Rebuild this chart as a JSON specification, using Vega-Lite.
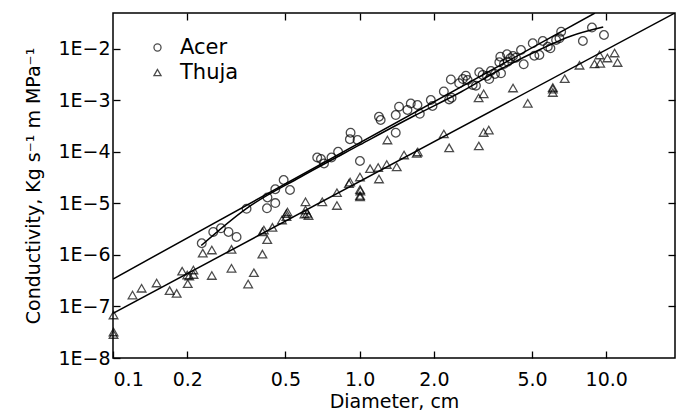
{
  "$schema": "https://vega.github.io/schema/vega-lite/v6.json",
  "width": 562,
  "height": 345,
  "autosize": {"type": "none"},
  "padding": {"left": 113, "top": 13, "right": 1, "bottom": 57},
  "background": "white",
  "config": {
    "font": "DejaVu Sans",
    "view": {"stroke": "black", "strokeWidth": 1.5},
    "axis": {
      "grid": false,
      "domain": false,
      "tickColor": "black",
      "tickWidth": 1.3,
      "labelColor": "black",
      "titleColor": "black",
      "labelFontSize": 19,
      "titleFontSize": 19,
      "titleFontWeight": "normal"
    }
  },
  "datasets": {
    "points": [
      {"species": "Acer", "diameter": 0.229, "conductivity": 1.69e-6},
      {"species": "Acer", "diameter": 0.255, "conductivity": 2.80e-6},
      {"species": "Acer", "diameter": 0.274, "conductivity": 3.30e-6},
      {"species": "Acer", "diameter": 0.294, "conductivity": 2.80e-6},
      {"species": "Acer", "diameter": 0.317, "conductivity": 2.24e-6},
      {"species": "Acer", "diameter": 0.348, "conductivity": 7.89e-6},
      {"species": "Acer", "diameter": 0.421, "conductivity": 8.07e-6},
      {"species": "Acer", "diameter": 0.423, "conductivity": 1.31e-5},
      {"species": "Acer", "diameter": 0.455, "conductivity": 1.02e-5},
      {"species": "Acer", "diameter": 0.455, "conductivity": 1.89e-5},
      {"species": "Acer", "diameter": 0.492, "conductivity": 2.86e-5},
      {"species": "Acer", "diameter": 0.522, "conductivity": 1.83e-5},
      {"species": "Acer", "diameter": 0.673, "conductivity": 7.82e-5},
      {"species": "Acer", "diameter": 0.697, "conductivity": 7.31e-5},
      {"species": "Acer", "diameter": 0.717, "conductivity": 5.98e-5},
      {"species": "Acer", "diameter": 0.769, "conductivity": 7.82e-5},
      {"species": "Acer", "diameter": 0.818, "conductivity": 1.01e-4},
      {"species": "Acer", "diameter": 0.919, "conductivity": 2.37e-4},
      {"species": "Acer", "diameter": 0.913, "conductivity": 1.77e-4},
      {"species": "Acer", "diameter": 0.981, "conductivity": 1.71e-4},
      {"species": "Acer", "diameter": 1.003, "conductivity": 6.68e-5},
      {"species": "Acer", "diameter": 1.198, "conductivity": 4.84e-4},
      {"species": "Acer", "diameter": 1.217, "conductivity": 4.18e-4},
      {"species": "Acer", "diameter": 1.401, "conductivity": 5.22e-4},
      {"species": "Acer", "diameter": 1.401, "conductivity": 2.37e-4},
      {"species": "Acer", "diameter": 1.445, "conductivity": 7.59e-4},
      {"species": "Acer", "diameter": 1.563, "conductivity": 6.55e-4},
      {"species": "Acer", "diameter": 1.612, "conductivity": 8.75e-4},
      {"species": "Acer", "diameter": 1.716, "conductivity": 8.18e-4},
      {"species": "Acer", "diameter": 1.754, "conductivity": 5.52e-4},
      {"species": "Acer", "diameter": 1.944, "conductivity": 1.02e-3},
      {"species": "Acer", "diameter": 1.975, "conductivity": 7.82e-4},
      {"species": "Acer", "diameter": 2.195, "conductivity": 1.50e-3},
      {"species": "Acer", "diameter": 2.307, "conductivity": 1.05e-3},
      {"species": "Acer", "diameter": 2.344, "conductivity": 2.56e-3},
      {"species": "Acer", "diameter": 2.360, "conductivity": 1.13e-3},
      {"species": "Acer", "diameter": 2.533, "conductivity": 2.16e-3},
      {"species": "Acer", "diameter": 2.622, "conductivity": 2.61e-3},
      {"species": "Acer", "diameter": 2.697, "conductivity": 3.03e-3},
      {"species": "Acer", "diameter": 2.741, "conductivity": 2.50e-3},
      {"species": "Acer", "diameter": 2.872, "conductivity": 2.00e-3},
      {"species": "Acer", "diameter": 2.962, "conductivity": 1.94e-3},
      {"species": "Acer", "diameter": 3.055, "conductivity": 3.53e-3},
      {"species": "Acer", "diameter": 3.154, "conductivity": 3.13e-3},
      {"species": "Acer", "diameter": 3.283, "conductivity": 2.99e-3},
      {"species": "Acer", "diameter": 3.354, "conductivity": 2.61e-3},
      {"species": "Acer", "diameter": 3.408, "conductivity": 3.74e-3},
      {"species": "Acer", "diameter": 3.538, "conductivity": 3.27e-3},
      {"species": "Acer", "diameter": 3.744, "conductivity": 3.37e-3},
      {"species": "Acer", "diameter": 3.685, "conductivity": 5.52e-3},
      {"species": "Acer", "diameter": 3.719, "conductivity": 7.08e-3},
      {"species": "Acer", "diameter": 3.849, "conductivity": 5.12e-3},
      {"species": "Acer", "diameter": 3.959, "conductivity": 7.89e-3},
      {"species": "Acer", "diameter": 3.985, "conductivity": 5.67e-3},
      {"species": "Acer", "diameter": 4.083, "conductivity": 6.60e-3},
      {"species": "Acer", "diameter": 4.188, "conductivity": 7.31e-3},
      {"species": "Acer", "diameter": 4.306, "conductivity": 6.78e-3},
      {"species": "Acer", "diameter": 4.512, "conductivity": 9.57e-3},
      {"species": "Acer", "diameter": 4.627, "conductivity": 5.05e-3},
      {"species": "Acer", "diameter": 5.035, "conductivity": 1.29e-2},
      {"species": "Acer", "diameter": 5.111, "conductivity": 7.41e-3},
      {"species": "Acer", "diameter": 5.356, "conductivity": 7.64e-3},
      {"species": "Acer", "diameter": 5.529, "conductivity": 1.43e-2},
      {"species": "Acer", "diameter": 5.794, "conductivity": 1.11e-2},
      {"species": "Acer", "diameter": 5.937, "conductivity": 1.03e-2},
      {"species": "Acer", "diameter": 6.261, "conductivity": 1.50e-2},
      {"species": "Acer", "diameter": 6.459, "conductivity": 1.61e-2},
      {"species": "Acer", "diameter": 6.563, "conductivity": 2.17e-2},
      {"species": "Acer", "diameter": 8.04, "conductivity": 1.43e-2},
      {"species": "Acer", "diameter": 8.75, "conductivity": 2.61e-2},
      {"species": "Acer", "diameter": 9.79, "conductivity": 1.87e-2},
      {"species": "Thuja", "diameter": 0.1005, "conductivity": 6.84e-8},
      {"species": "Thuja", "diameter": 0.1005, "conductivity": 2.86e-8},
      {"species": "Thuja", "diameter": 0.1005, "conductivity": 3.20e-8},
      {"species": "Thuja", "diameter": 0.120, "conductivity": 1.67e-7},
      {"species": "Thuja", "diameter": 0.1306, "conductivity": 2.26e-7},
      {"species": "Thuja", "diameter": 0.1503, "conductivity": 2.86e-7},
      {"species": "Thuja", "diameter": 0.1697, "conductivity": 2.03e-7},
      {"species": "Thuja", "diameter": 0.1812, "conductivity": 1.80e-7},
      {"species": "Thuja", "diameter": 0.1908, "conductivity": 4.85e-7},
      {"species": "Thuja", "diameter": 0.2009, "conductivity": 2.77e-7},
      {"species": "Thuja", "diameter": 0.2000, "conductivity": 4.09e-7},
      {"species": "Thuja", "diameter": 0.2037, "conductivity": 3.91e-7},
      {"species": "Thuja", "diameter": 0.2118, "conductivity": 5.11e-7},
      {"species": "Thuja", "diameter": 0.2121, "conductivity": 4.18e-7},
      {"species": "Thuja", "diameter": 0.2312, "conductivity": 1.09e-6},
      {"species": "Thuja", "diameter": 0.2516, "conductivity": 1.25e-6},
      {"species": "Thuja", "diameter": 0.2516, "conductivity": 4.00e-7},
      {"species": "Thuja", "diameter": 0.3023, "conductivity": 1.29e-6},
      {"species": "Thuja", "diameter": 0.3023, "conductivity": 5.52e-7},
      {"species": "Thuja", "diameter": 0.3532, "conductivity": 2.73e-7},
      {"species": "Thuja", "diameter": 0.3726, "conductivity": 4.53e-7},
      {"species": "Thuja", "diameter": 0.4034, "conductivity": 1.04e-6},
      {"species": "Thuja", "diameter": 0.4034, "conductivity": 2.83e-6},
      {"species": "Thuja", "diameter": 0.4091, "conductivity": 3.06e-6},
      {"species": "Thuja", "diameter": 0.4220, "conductivity": 1.99e-6},
      {"species": "Thuja", "diameter": 0.4430, "conductivity": 3.45e-6},
      {"species": "Thuja", "diameter": 0.4842, "conductivity": 4.78e-6},
      {"species": "Thuja", "diameter": 0.5050, "conductivity": 6.34e-6},
      {"species": "Thuja", "diameter": 0.5097, "conductivity": 6.84e-6},
      {"species": "Thuja", "diameter": 0.5050, "conductivity": 5.54e-6},
      {"species": "Thuja", "diameter": 0.6033, "conductivity": 1.08e-5},
      {"species": "Thuja", "diameter": 0.6033, "conductivity": 7.48e-6},
      {"species": "Thuja", "diameter": 0.6130, "conductivity": 6.45e-6},
      {"species": "Thuja", "diameter": 0.6205, "conductivity": 5.85e-6},
      {"species": "Thuja", "diameter": 0.5976, "conductivity": 6.25e-6},
      {"species": "Thuja", "diameter": 0.7055, "conductivity": 1.08e-5},
      {"species": "Thuja", "diameter": 0.809, "conductivity": 1.62e-5},
      {"species": "Thuja", "diameter": 0.809, "conductivity": 9.14e-6},
      {"species": "Thuja", "diameter": 0.905, "conductivity": 2.44e-5},
      {"species": "Thuja", "diameter": 0.915, "conductivity": 2.61e-5},
      {"species": "Thuja", "diameter": 1.003, "conductivity": 3.27e-5},
      {"species": "Thuja", "diameter": 1.004, "conductivity": 1.87e-5},
      {"species": "Thuja", "diameter": 1.007, "conductivity": 1.75e-5},
      {"species": "Thuja", "diameter": 1.004, "conductivity": 1.43e-5},
      {"species": "Thuja", "diameter": 1.004, "conductivity": 1.34e-5},
      {"species": "Thuja", "diameter": 1.103, "conductivity": 4.74e-5},
      {"species": "Thuja", "diameter": 1.189, "conductivity": 5.00e-5},
      {"species": "Thuja", "diameter": 1.198, "conductivity": 2.99e-5},
      {"species": "Thuja", "diameter": 1.288, "conductivity": 5.72e-5},
      {"species": "Thuja", "diameter": 1.296, "conductivity": 1.71e-4},
      {"species": "Thuja", "diameter": 1.414, "conductivity": 5.12e-5},
      {"species": "Thuja", "diameter": 1.514, "conductivity": 8.75e-5},
      {"species": "Thuja", "diameter": 1.705, "conductivity": 9.44e-5},
      {"species": "Thuja", "diameter": 1.721, "conductivity": 1.0e-4},
      {"species": "Thuja", "diameter": 2.195, "conductivity": 2.24e-4},
      {"species": "Thuja", "diameter": 2.307, "conductivity": 1.20e-4},
      {"species": "Thuja", "diameter": 3.037, "conductivity": 1.12e-3},
      {"species": "Thuja", "diameter": 3.183, "conductivity": 1.35e-3},
      {"species": "Thuja", "diameter": 3.043, "conductivity": 1.31e-4},
      {"species": "Thuja", "diameter": 3.183, "conductivity": 2.39e-4},
      {"species": "Thuja", "diameter": 3.339, "conductivity": 2.67e-4},
      {"species": "Thuja", "diameter": 4.188, "conductivity": 1.75e-3},
      {"species": "Thuja", "diameter": 4.805, "conductivity": 8.83e-4},
      {"species": "Thuja", "diameter": 6.072, "conductivity": 1.79e-3},
      {"species": "Thuja", "diameter": 6.072, "conductivity": 1.67e-3},
      {"species": "Thuja", "diameter": 6.072, "conductivity": 1.43e-3},
      {"species": "Thuja", "diameter": 6.786, "conductivity": 2.65e-3},
      {"species": "Thuja", "diameter": 7.79, "conductivity": 4.83e-3},
      {"species": "Thuja", "diameter": 8.96, "conductivity": 5.12e-3},
      {"species": "Thuja", "diameter": 9.39, "conductivity": 7.64e-3},
      {"species": "Thuja", "diameter": 9.45, "conductivity": 5.28e-3},
      {"species": "Thuja", "diameter": 10.11, "conductivity": 6.68e-3},
      {"species": "Thuja", "diameter": 10.81, "conductivity": 8.36e-3},
      {"species": "Thuja", "diameter": 11.11, "conductivity": 5.47e-3}
    ],
    "fits": [
      {"fit": "Acer linear", "diameter": 0.1, "conductivity": 3.42e-7},
      {"fit": "Acer linear", "diameter": 9.0, "conductivity": 0.05},
      {"fit": "Thuja linear", "diameter": 0.1, "conductivity": 7.38e-8},
      {"fit": "Thuja linear", "diameter": 19, "conductivity": 0.05},
      {"fit": "Acer curve", "diameter": 0.2279, "conductivity": 1.53e-6},
      {"fit": "Acer curve", "diameter": 0.3472, "conductivity": 7.99e-6},
      {"fit": "Acer curve", "diameter": 0.5757, "conductivity": 3.27e-5},
      {"fit": "Acer curve", "diameter": 1.0, "conductivity": 1.37e-4},
      {"fit": "Acer curve", "diameter": 1.658, "conductivity": 5.00e-4},
      {"fit": "Acer curve", "diameter": 2.574, "conductivity": 1.46e-3},
      {"fit": "Acer curve", "diameter": 3.744, "conductivity": 4.09e-3},
      {"fit": "Acer curve", "diameter": 5.443, "conductivity": 1.0e-2},
      {"fit": "Acer curve", "diameter": 7.206, "conductivity": 1.79e-2},
      {"fit": "Acer curve", "diameter": 9.72, "conductivity": 2.67e-2}
    ]
  },
  "layer": [
    {
      "data": {"name": "fits"},
      "mark": {"type": "line", "color": "black", "strokeWidth": 1.5, "interpolate": "monotone", "clip": true},
      "encoding": {
        "x": {
          "field": "diameter", "type": "quantitative",
          "scale": {"type": "log", "domain": [0.1, 19], "nice": false},
          "axis": {"orient": "top", "labels": false, "title": null, "values": [0.2, 0.5, 1, 2, 5, 10], "tickSize": -7}
        },
        "y": {
          "field": "conductivity", "type": "quantitative",
          "scale": {"type": "log", "domain": [1e-8, 0.05], "nice": false},
          "axis": {"orient": "right", "labels": false, "title": null, "values": [1e-7, 1e-6, 1e-5, 1e-4, 1e-3, 1e-2], "tickSize": -7}
        },
        "detail": {"field": "fit"}
      }
    },
    {
      "data": {"name": "points"},
      "mark": {"type": "point", "filled": false, "color": "black", "strokeWidth": 1.3, "size": 75, "clip": false},
      "encoding": {
        "x": {
          "field": "diameter", "type": "quantitative",
          "scale": {"type": "log", "domain": [0.1, 19], "nice": false},
          "axis": {
            "orient": "bottom", "title": "Diameter, cm",
            "values": [0.1, 0.2, 0.5, 1, 2, 5, 10],
            "labelExpr": "format(datum.value, '.1f')",
            "tickSize": -7, "labelPadding": 19, "titlePadding": 3
          }
        },
        "y": {
          "field": "conductivity", "type": "quantitative",
          "scale": {"type": "log", "domain": [1e-8, 0.05], "nice": false},
          "axis": {
            "orient": "left", "title": "Conductivity, Kg s⁻¹ m MPa⁻¹",
            "values": [1e-8, 1e-7, 1e-6, 1e-5, 1e-4, 1e-3, 1e-2],
            "labelExpr": "'1E−' + format(-log(datum.value) / LN10, '.0f')",
            "tickSize": -7, "labelPadding": 10, "titlePadding": 14
          }
        },
        "shape": {
          "field": "species", "type": "nominal",
          "scale": {"domain": ["Acer", "Thuja"], "range": ["circle", "triangle-up"]},
          "legend": {
            "orient": "none", "legendX": 34, "legendY": 24, "title": null,
            "labelFontSize": 21, "labelColor": "black", "symbolSize": 50,
            "symbolStrokeColor": "black", "symbolStrokeWidth": 1.3,
            "rowPadding": 3, "padding": 0, "labelOffset": 12
          }
        }
      }
    }
  ],
  "resolve": {"axis": {"x": "independent", "y": "independent"}}
}
